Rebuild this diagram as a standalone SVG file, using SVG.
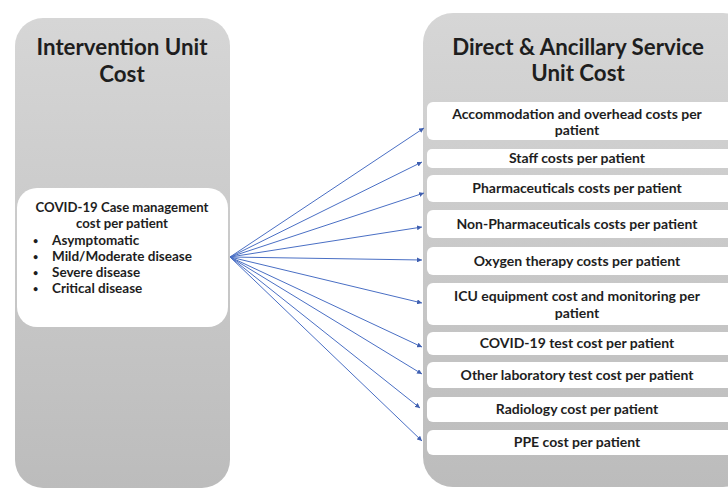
<svg xmlns="http://www.w3.org/2000/svg" width="728" height="489" viewBox="0 0 728 489">
<defs>
<linearGradient id="g" x1="0" y1="0" x2="0" y2="1">
<stop offset="0" stop-color="#d6d6d6"/>
<stop offset="1" stop-color="#bcbcbc"/>
</linearGradient>
<marker id="ah" viewBox="0 0 10 10" refX="10" refY="5" markerWidth="5" markerHeight="5" orient="auto" markerUnits="userSpaceOnUse">
<path d="M0,0 L10,5 L0,10 z" fill="#3f5fb0"/>
</marker>
</defs>
<style>
.panel{fill:url(#g);}
.box{fill:#ffffff;}
.t{font-family:Lato,"Liberation Sans",sans-serif;font-weight:bold;fill:#1e1e1e;}
.title{font-size:22.3px;text-anchor:middle;}
.lbl{font-size:14px;text-anchor:middle;}
.hd{font-size:13.2px;text-anchor:middle;}
.lt{font-size:13.5px;}
.bu{font-size:9px;}
.c line{stroke:#4a6fc4;stroke-width:1;marker-end:url(#ah);}
</style>
<rect width="728" height="489" fill="#ffffff"/>
<g id="left">
<rect class="panel" x="15" y="18" width="215" height="470" rx="28"/>
<text class="t title" x="122" y="55">Intervention Unit</text>
<text class="t title" x="122" y="82">Cost</text>
</g>
<g id="intervention">
<rect class="box" x="17" y="188" width="211" height="139" rx="20"/>
<text class="t hd" x="122" y="212">COVID-19 Case management</text>
<text class="t hd" x="122" y="228">cost per patient</text>
<text class="t bu" x="33" y="244">•</text><text class="t lt" x="52" y="245">Asymptomatic</text>
<text class="t bu" x="33" y="260">•</text><text class="t lt" x="52" y="261">Mild/Moderate disease</text>
<text class="t bu" x="33" y="276">•</text><text class="t lt" x="52" y="277">Severe disease</text>
<text class="t bu" x="33" y="292">•</text><text class="t lt" x="52" y="293">Critical disease</text>
</g>
<g id="right">
<rect class="panel" x="423" y="13" width="330" height="474" rx="30"/>
<text class="t title" x="578" y="55">Direct &amp; Ancillary Service</text>
<text class="t title" x="578" y="81">Unit Cost</text>
</g>
<g id="n1"><rect class="box" x="427" y="102" width="310" height="38" rx="6"/>
<text class="t lbl" x="577" y="119">Accommodation and overhead costs per</text>
<text class="t lbl" x="577" y="135">patient</text></g>
<g id="n2"><rect class="box" x="427" y="149" width="310" height="19" rx="5"/>
<text class="t lbl" x="577" y="163">Staff costs per patient</text></g>
<g id="n3"><rect class="box" x="427" y="175" width="310" height="27" rx="6"/>
<text class="t lbl" x="577" y="193">Pharmaceuticals costs per patient</text></g>
<g id="n4"><rect class="box" x="427" y="210" width="310" height="28" rx="6"/>
<text class="t lbl" x="577" y="229">Non-Pharmaceuticals costs per patient</text></g>
<g id="n5"><rect class="box" x="427" y="247" width="310" height="28" rx="6"/>
<text class="t lbl" x="577" y="266">Oxygen therapy costs per patient</text></g>
<g id="n6"><rect class="box" x="427" y="283" width="310" height="42" rx="6"/>
<text class="t lbl" x="577" y="301">ICU equipment cost and monitoring per</text>
<text class="t lbl" x="577" y="318">patient</text></g>
<g id="n7"><rect class="box" x="427" y="332" width="310" height="23" rx="6"/>
<text class="t lbl" x="577" y="348">COVID-19 test cost per patient</text></g>
<g id="n8"><rect class="box" x="427" y="362" width="310" height="26" rx="6"/>
<text class="t lbl" x="577" y="380">Other laboratory test cost per patient</text></g>
<g id="n9"><rect class="box" x="427" y="397" width="310" height="25" rx="6"/>
<text class="t lbl" x="577" y="414">Radiology cost per patient</text></g>
<g id="n10"><rect class="box" x="427" y="430" width="310" height="25" rx="6"/>
<text class="t lbl" x="577" y="447">PPE cost per patient</text></g>
<g id="connectors" class="c">
<line x1="230" y1="257" x2="424" y2="128"/>
<line x1="230" y1="257" x2="422" y2="162"/>
<line x1="230" y1="257" x2="424" y2="193"/>
<line x1="230" y1="257" x2="422" y2="227"/>
<line x1="230" y1="257" x2="422" y2="260"/>
<line x1="230" y1="257" x2="422" y2="303"/>
<line x1="230" y1="257" x2="422" y2="347"/>
<line x1="230" y1="257" x2="422" y2="374"/>
<line x1="230" y1="257" x2="420" y2="408"/>
<line x1="230" y1="257" x2="422" y2="441"/>
</g>
</svg>
